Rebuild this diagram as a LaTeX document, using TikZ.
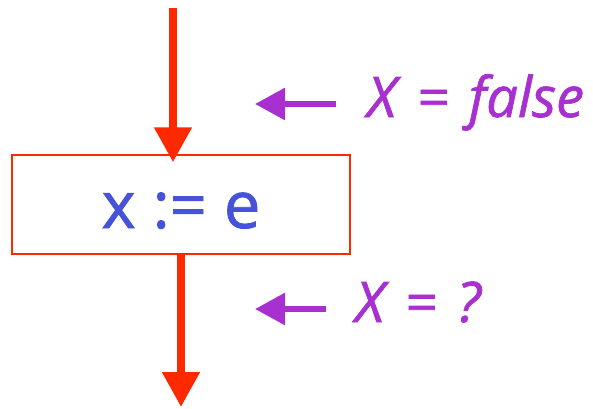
\documentclass[tikz,border=0pt]{standalone}
\usepackage{fontspec}
\setmainfont{Open Sans}
\newfontfamily\roundfont{Open Sans}[FakeBold=1.2]
\newcommand\factfont{\roundfont\fontsize{56}{60}\selectfont\itshape\spaceskip 0.36em\relax}
\usetikzlibrary{arrows.meta,positioning}
\definecolor{flowred}{rgb}{1.0, 0.16, 0.0}
\definecolor{factlila}{rgb}{0.66, 0.19, 0.82}
\definecolor{stmtblue}{rgb}{0.27, 0.32, 0.85}

\begin{document}
\begin{tikzpicture}[x=1pt,y=1pt,
  flow/.style={draw=flowred,line width=8pt,-{Triangle[width=36pt,length=35pt]}},
  fact/.style={draw=factlila,line width=6pt,-{Triangle[width=31pt,length=30pt]}},
  stmt/.style={draw=flowred,line width=1.5pt,minimum width=338pt,minimum height=99pt,
    inner sep=0pt,text=stmtblue,font=\roundfont\fontsize{65}{70}\selectfont,text height=47pt,text depth=0pt},
  factlabel/.style={text=factlila,font=\factfont,anchor=base west,inner sep=0pt}]
\useasboundingbox (0,0) rectangle (593,408);

% statement box
    \node[stmt] (assign) at (181,203.5) {x := e};

% flow into and out of the statement
    \coordinate (in) at (173,400);
    \coordinate (out) at (181,1);
    \draw[flow] (in) -- ([yshift=-8pt]in |- assign.north);
    \draw[flow] (assign.south) -- (out);

% facts before and after
    \node[factlabel] (before) at (367,291) {X = false};
    \node[factlabel] (after) at (355,86) {X = ?};
    \coordinate (beforetip) at (255,304);
    \coordinate (aftertip) at (255,99);
    \draw[fact] ([xshift=-31pt,yshift=13pt]before.base west) -- (beforetip);
    \draw[fact] ([xshift=-29pt,yshift=13pt]after.base west) -- (aftertip);
\end{tikzpicture}
\end{document}
